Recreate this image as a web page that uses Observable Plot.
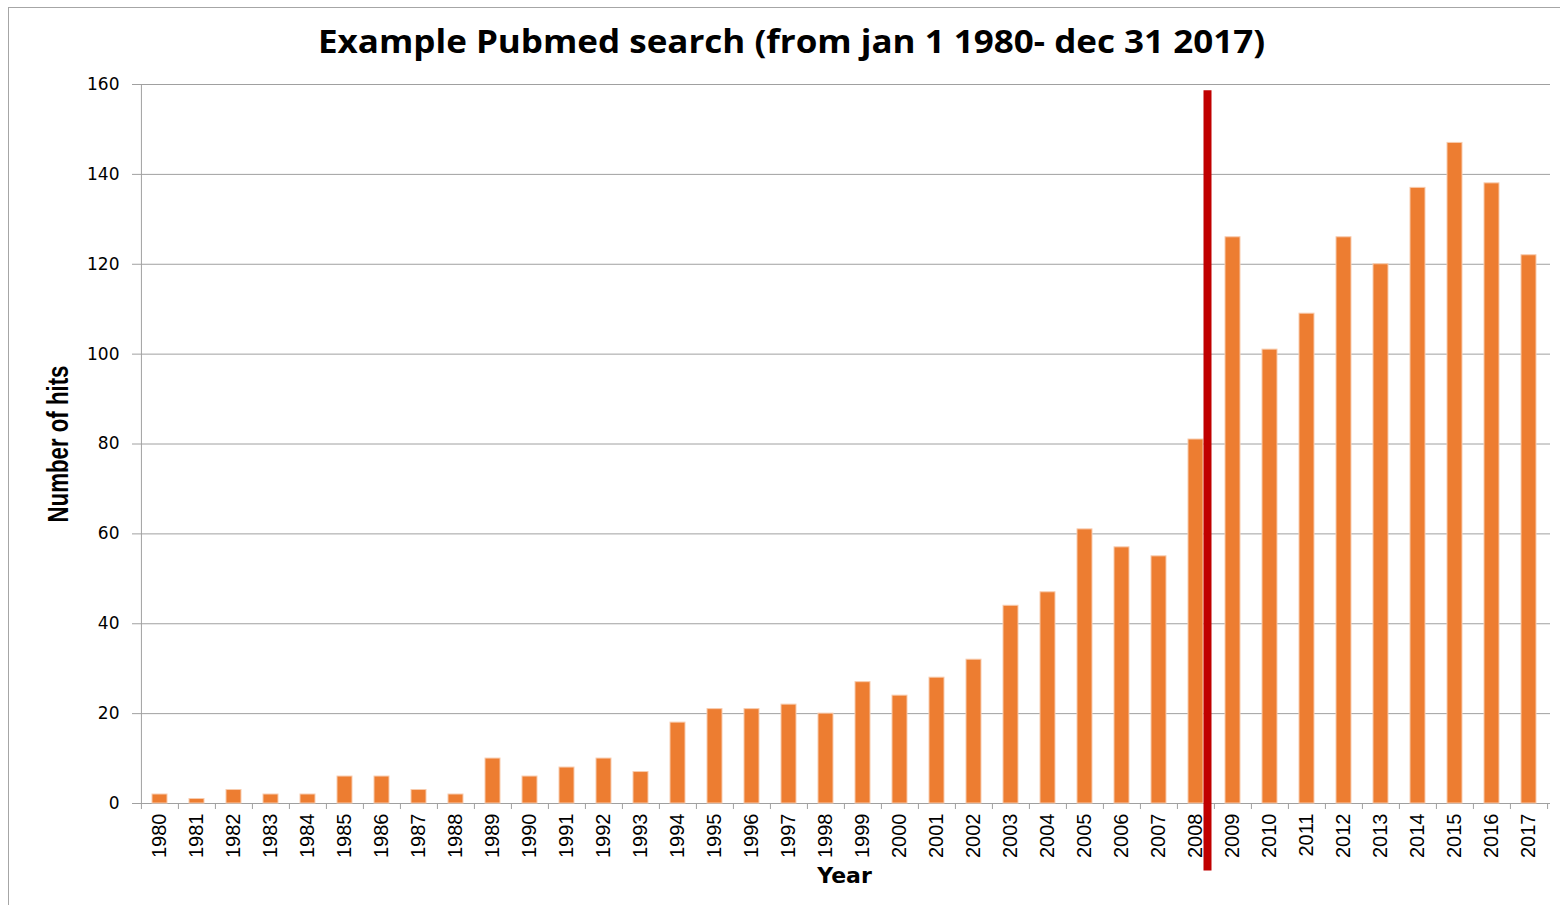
<!DOCTYPE html>
<html>
<head>
<meta charset="utf-8">
<script src="https://cdn.jsdelivr.net/npm/d3@7"></script>
<script src="https://cdn.jsdelivr.net/npm/@observablehq/plot@0.6"></script>
<style>
  html, body { margin: 0; padding: 0; background: #fff; }
  #wrap { position: relative; width: 1560px; height: 905px; overflow: hidden; }
  #border { position: absolute; left: 8px; top: 7px; width: 1560px; height: 1000px; border: 1px solid #a6a6a6; box-sizing: border-box; pointer-events: none; }
  #chart { position: absolute; left: 0; top: 0; }
</style>
</head>
<body>
<div id="wrap"><div id="border"></div><div id="chart"></div></div>
<script>
const years = ["1980","1981","1982","1983","1984","1985","1986","1987","1988","1989",
  "1990","1991","1992","1993","1994","1995","1996","1997","1998","1999",
  "2000","2001","2002","2003","2004","2005","2006","2007","2008","2009",
  "2010","2011","2012","2013","2014","2015","2016","2017"];
const hits = [2,1,3,2,2,6,6,3,2,10,
  6,8,10,7,18,21,21,22,20,27,
  24,28,32,44,47,61,57,55,81,126,
  101,109,126,120,137,147,138,122];
const yTicks = [0,20,40,60,80,100,120,140,160];
const markerYear = "2008";
const markerTop = 158.6;
const markerBottom = -15;
const titleText = "Example Pubmed search (from jan 1 1980- dec 31 2017)";
const xLabel = "Year";
const yLabel = "Number of hits";

const data = years.map((y, i) => ({year: y, hits: hits[i]}));

const W = 1560, H = 905;
const mL = 138, mR = 10, mT = 84, mB = 102;
const step = (W - mL - mR) / years.length;
const tickLen = 6 * 160 / (H - mT - mB);

const chart = Plot.plot({
  width: W,
  height: H,
  marginLeft: mL,
  marginRight: mR,
  marginTop: mT,
  marginBottom: mB,
  style: {background: "transparent", overflow: "visible"},
  x: {type: "band", domain: years, paddingInner: 0.6, paddingOuter: 0.3, label: null},
  y: {domain: [0, 160], label: null},
  marks: [
    Plot.gridY(yTicks, {stroke: "#a0a0a0", strokeOpacity: 1, strokeWidth: 1}),
    Plot.axisY(yTicks, {
      tickSize: 6, tickPadding: 13, stroke: "#a0a0a0",
      fontSize: 17, fontFamily: "DejaVu Sans", fill: "#000",
      label: null
    }),
    Plot.axisX({
      tickSize: 0, tickPadding: 10, tickRotate: -90,
      fontSize: 20, fontFamily: "Liberation Sans Narrow, Liberation Sans", fill: "#000",
      label: null
    }),
    Plot.ruleX([years[0]], {dx: -step / 2, y1: 0, y2: 160, stroke: "#a0a0a0"}),
    Plot.ruleX(years, {dx: -step / 2, y1: 0, y2: -tickLen, stroke: "#a0a0a0"}),
    Plot.ruleX([years[years.length - 1]], {dx: step / 2, y1: 0, y2: -tickLen, stroke: "#a0a0a0"}),
    Plot.barY(data, {x: "year", y: "hits", fill: "#ED7D31", stroke: "#F8CBAD", strokeWidth: 1}),
    Plot.ruleX([markerYear], {dx: 11.5, y1: markerBottom, y2: markerTop, stroke: "#C00000", strokeWidth: 8}),
    Plot.text([titleText], {
      frameAnchor: "top", lineAnchor: "middle", textAnchor: "middle", dx: -53, dy: -42, text: d => d,
      fontSize: 32, fontWeight: "bold", fontFamily: "Open Sans", fill: "#000", className: "ttl"
    }),
    Plot.text([xLabel], {
      frameAnchor: "bottom", lineAnchor: "middle", textAnchor: "middle", dy: 72, text: d => d,
      fontSize: 22, fontWeight: "bold", fontFamily: "DejaVu Sans", fill: "#000"
    }),
    Plot.text([yLabel], {
      frameAnchor: "left", lineAnchor: "middle", textAnchor: "middle", dx: -80, rotate: -90, text: d => d,
      fontSize: 30, fontWeight: "bold", fontFamily: "Liberation Sans Narrow, Liberation Sans", fill: "#000", className: "ylab"
    })
  ]
});
d3.select(chart).selectAll(".ttl text").attr("textLength", 947).attr("lengthAdjust", "spacingAndGlyphs");
d3.select(chart).selectAll(".ylab text").attr("textLength", 157).attr("lengthAdjust", "spacingAndGlyphs");
document.getElementById("chart").appendChild(chart);
</script>
</body>
</html>
